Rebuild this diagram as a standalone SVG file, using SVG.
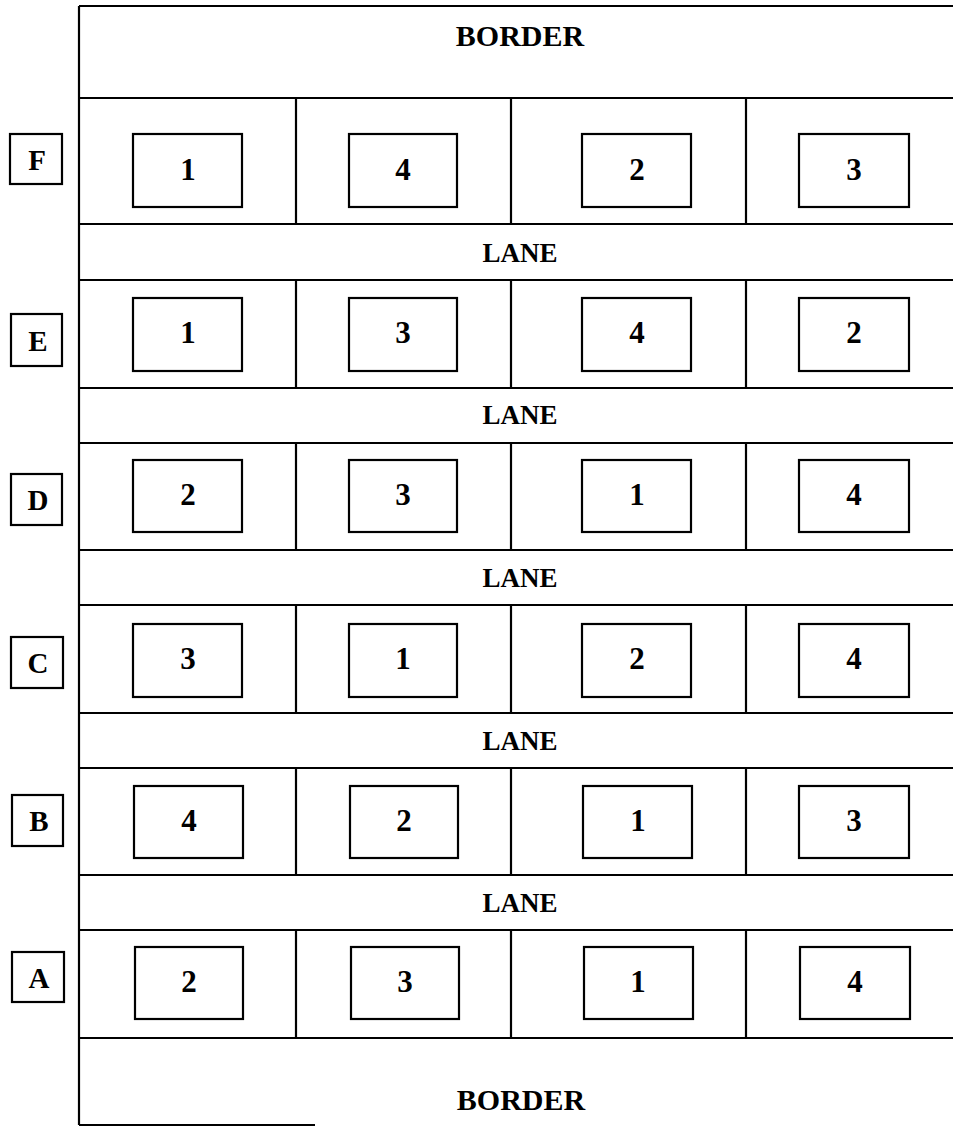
<svg xmlns="http://www.w3.org/2000/svg" width="953" height="1126" viewBox="0 0 953 1126">
<style>
.ln{stroke:#000;stroke-width:2.2;fill:none}
.bx{stroke:#000;stroke-width:2.2;fill:#fff}
.t{font-family:"Liberation Serif","Times New Roman",serif;font-weight:bold;fill:#000;text-anchor:middle}
.num{font-size:31px}
.lab{font-size:29px}
.lane{font-size:27px}
.brd{font-size:30px}
</style>
<rect width="953" height="1126" fill="#fff"/>
<g id="grid">
<line class="ln" x1="79" y1="6" x2="79" y2="1125"/>
<line class="ln" x1="79" y1="6" x2="953" y2="6"/>
<line class="ln" x1="79" y1="1125" x2="315" y2="1125"/>
<line class="ln" x1="79" y1="98" x2="953" y2="98"/>
<line class="ln" x1="79" y1="224" x2="953" y2="224"/>
<line class="ln" x1="79" y1="280" x2="953" y2="280"/>
<line class="ln" x1="79" y1="388" x2="953" y2="388"/>
<line class="ln" x1="79" y1="443" x2="953" y2="443"/>
<line class="ln" x1="79" y1="550" x2="953" y2="550"/>
<line class="ln" x1="79" y1="605" x2="953" y2="605"/>
<line class="ln" x1="79" y1="713" x2="953" y2="713"/>
<line class="ln" x1="79" y1="768" x2="953" y2="768"/>
<line class="ln" x1="79" y1="875" x2="953" y2="875"/>
<line class="ln" x1="79" y1="930" x2="953" y2="930"/>
<line class="ln" x1="79" y1="1038" x2="953" y2="1038"/>
<path class="ln" d="M296 98V224M511 98V224M746 98V224M296 280V388M511 280V388M746 280V388M296 443V550M511 443V550M746 443V550M296 605V713M511 605V713M746 605V713M296 768V875M511 768V875M746 768V875M296 930V1038M511 930V1038M746 930V1038"/>
</g>
<g id="texts">
<text class="t brd" x="520" y="46">BORDER</text>
<text class="t brd" x="521" y="1110">BORDER</text>
<text class="t lane" x="520" y="262">LANE</text>
<text class="t lane" x="520" y="424">LANE</text>
<text class="t lane" x="520" y="587">LANE</text>
<text class="t lane" x="520" y="750">LANE</text>
<text class="t lane" x="520" y="912">LANE</text>
</g>
<g id="rowF">
<rect class="bx" x="10" y="134" width="52" height="50"/><text class="t lab" x="37" y="170">F</text>
<rect class="bx" x="133" y="134" width="109" height="73"/><text class="t num" x="188" y="180">1</text>
<rect class="bx" x="349" y="134" width="108" height="73"/><text class="t num" x="403" y="180">4</text>
<rect class="bx" x="582" y="134" width="109" height="73"/><text class="t num" x="637" y="180">2</text>
<rect class="bx" x="799" y="134" width="110" height="73"/><text class="t num" x="854" y="180">3</text>
</g>
<g id="rowE">
<rect class="bx" x="11" y="314" width="51" height="52"/><text class="t lab" x="38" y="351">E</text>
<rect class="bx" x="133" y="298" width="109" height="73"/><text class="t num" x="188" y="343">1</text>
<rect class="bx" x="349" y="298" width="108" height="73"/><text class="t num" x="403" y="343">3</text>
<rect class="bx" x="582" y="298" width="109" height="73"/><text class="t num" x="637" y="343">4</text>
<rect class="bx" x="799" y="298" width="110" height="73"/><text class="t num" x="854" y="343">2</text>
</g>
<g id="rowD">
<rect class="bx" x="11" y="474" width="51" height="51"/><text class="t lab" x="38" y="510">D</text>
<rect class="bx" x="133" y="460" width="109" height="72"/><text class="t num" x="188" y="505">2</text>
<rect class="bx" x="349" y="460" width="108" height="72"/><text class="t num" x="403" y="505">3</text>
<rect class="bx" x="582" y="460" width="109" height="72"/><text class="t num" x="637" y="505">1</text>
<rect class="bx" x="799" y="460" width="110" height="72"/><text class="t num" x="854" y="505">4</text>
</g>
<g id="rowC">
<rect class="bx" x="11" y="637" width="52" height="51"/><text class="t lab" x="38" y="673">C</text>
<rect class="bx" x="133" y="624" width="109" height="73"/><text class="t num" x="188" y="669">3</text>
<rect class="bx" x="349" y="624" width="108" height="73"/><text class="t num" x="403" y="669">1</text>
<rect class="bx" x="582" y="624" width="109" height="73"/><text class="t num" x="637" y="669">2</text>
<rect class="bx" x="799" y="624" width="110" height="73"/><text class="t num" x="854" y="669">4</text>
</g>
<g id="rowB">
<rect class="bx" x="12" y="795" width="51" height="51"/><text class="t lab" x="39" y="831">B</text>
<rect class="bx" x="134" y="786" width="109" height="72"/><text class="t num" x="189" y="831">4</text>
<rect class="bx" x="350" y="786" width="108" height="72"/><text class="t num" x="404" y="831">2</text>
<rect class="bx" x="583" y="786" width="109" height="72"/><text class="t num" x="638" y="831">1</text>
<rect class="bx" x="799" y="786" width="110" height="72"/><text class="t num" x="854" y="831">3</text>
</g>
<g id="rowA">
<rect class="bx" x="12" y="952" width="52" height="50"/><text class="t lab" x="39" y="988">A</text>
<rect class="bx" x="135" y="947" width="108" height="72"/><text class="t num" x="189" y="992">2</text>
<rect class="bx" x="351" y="947" width="108" height="72"/><text class="t num" x="405" y="992">3</text>
<rect class="bx" x="584" y="947" width="109" height="72"/><text class="t num" x="638" y="992">1</text>
<rect class="bx" x="800" y="947" width="110" height="72"/><text class="t num" x="855" y="992">4</text>
</g>
</svg>
